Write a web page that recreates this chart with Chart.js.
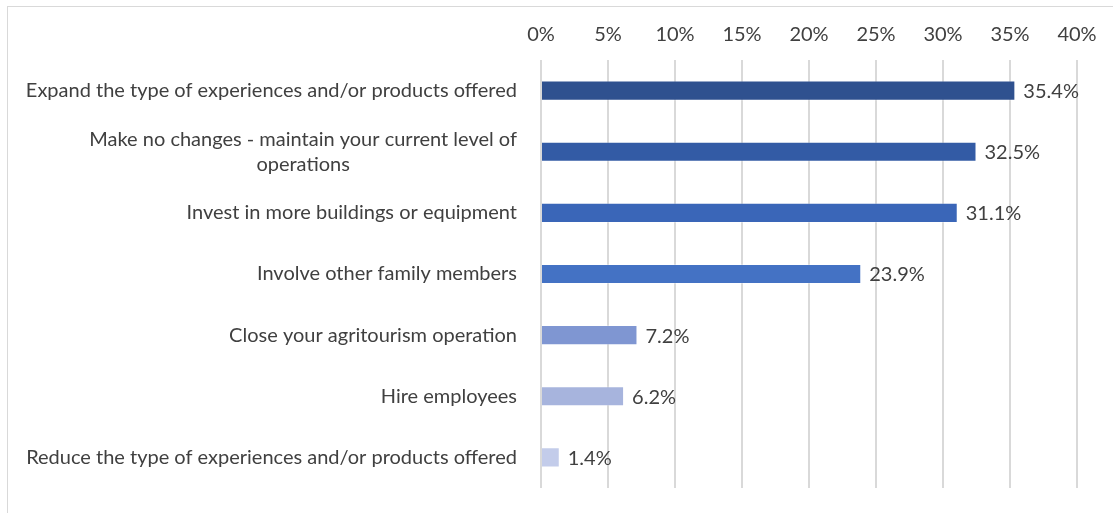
<!DOCTYPE html>
<html lang="en">
  <head>
    <meta charset="UTF-8" />
    <title>Agritourism plans</title>
    <style>
      html, body { margin: 0; padding: 0; background: #fff; overflow: hidden; }
      #frame {
        position: absolute; left: 7px; top: 6px; width: 1200px; height: 600px;
        border-left: 1px solid #d9d9d9; border-top: 1px solid #d9d9d9;
      }
      #wrap { position: absolute; left: 0; top: 0; width: 1113px; height: 513px; }
    </style>
  </head>
  <body>
    <div id="frame"></div>
    <div id="wrap"><canvas id="chart" width="1113" height="513"></canvas></div>

    <script src="https://cdn.jsdelivr.net/npm/chart.js@4.4.0/dist/chart.umd.min.js"></script>
    <script>
      const categories = [
        ["Expand the type of experiences and/or products offered"],
        ["Make no changes - maintain your current level of", "operations"],
        ["Invest in more buildings or equipment"],
        ["Involve other family members"],
        ["Close your agritourism operation"],
        ["Hire employees"],
        ["Reduce the type of experiences and/or products offered"],
      ];
      const values = [35.4, 32.5, 31.1, 23.9, 7.2, 6.2, 1.4];
      const barColors = ["#2F518F", "#335BA5", "#3A66B8", "#4472C4", "#7F96D2", "#A7B4DD", "#C3CCEA"];
      const tickMin = 0, tickMax = 40, tickStep = 5;

      const FONT = "Lato, 'Open Sans', sans-serif";
      const TEXT = "#404040";

      // y labels: right aligned, wrapped lines centred under the first one
      const labelPlugin = {
        id: "labels",
        afterDraw(chart) {
          const ctx = chart.ctx;
          const y = chart.scales.y;
          ctx.save();
          ctx.font = "20px " + FONT;
          ctx.fillStyle = TEXT;
          ctx.textBaseline = "middle";
          const right = chart.chartArea.left - 24;
          categories.forEach((lines, i) => {
            const cy = y.getPixelForTick(i);
            const lh = 25;
            const top = cy - ((lines.length - 1) * lh) / 2;
            const w0 = ctx.measureText(lines[0]).width;
            lines.forEach((ln, j) => {
              if (j == 0) {
                ctx.textAlign = "right";
                ctx.fillText(ln, right, top);
              } else {
                ctx.textAlign = "center";
                ctx.fillText(ln, right - w0 / 2, top + j * lh);
              }
            });
          });

          // value labels at the end of each bar
          const meta = chart.getDatasetMeta(0);
          ctx.textAlign = "left";
          meta.data.forEach((bar, i) => {
            ctx.fillText(values[i].toFixed(1) + "%", bar.x + 8, bar.y + 1);
          });
          ctx.restore();
        },
      };

      new Chart(document.getElementById("chart"), {
        type: "bar",
        data: {
          labels: categories.map((c) => c.join(" ")),
          datasets: [
            {
              data: values,
              backgroundColor: barColors,
              borderColor: "rgba(255,255,255,0.3)",
              borderWidth: 1,
              barPercentage: 0.33,
              categoryPercentage: 1,
            },
          ],
        },
        options: {
          indexAxis: "y",
          responsive: false,
          animation: false,
          devicePixelRatio: 1,
          layout: { padding: { top: 10, bottom: 25, right: 36, left: 0 } },
          plugins: { legend: { display: false }, tooltip: { enabled: false } },
          scales: {
            x: {
              position: "top",
              min: tickMin,
              max: tickMax,
              ticks: {
                stepSize: tickStep,
                padding: 13,
                color: TEXT,
                font: { family: FONT, size: 20 },
                callback: (v) => v + "%",
              },
              grid: { color: "#d9d9d9", lineWidth: 2, drawTicks: false },
              border: { display: false },
            },
            y: {
              ticks: { display: false },
              grid: { display: false },
              border: { display: false },
              afterFit(scale) {
                scale.width = 541;
              },
            },
          },
        },
        plugins: [labelPlugin],
      });
    </script>
  </body>
</html>
